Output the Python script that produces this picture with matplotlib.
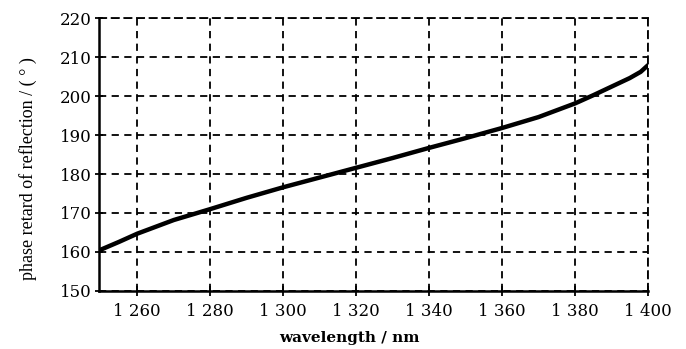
import matplotlib.pyplot as plt

plt.rcParams["font.family"] = ["Liberation Serif", "DejaVu Serif"]

# values
wavelength = [1249.5, 1255, 1260, 1270, 1280, 1290, 1300, 1310, 1320, 1330,
              1340, 1350, 1360, 1370, 1380, 1385, 1390, 1395, 1398, 1400]
phase = [160.4, 162.6, 164.7, 168.2, 171.0, 173.9, 176.6, 179.1, 181.6, 184.1,
         186.7, 189.2, 191.8, 194.6, 198.1, 200.2, 202.4, 204.6, 206.2, 207.9]

x_ticks = [1260, 1280, 1300, 1320, 1340, 1360, 1380, 1400]
x_tick_labels = ["1 260", "1 280", "1 300", "1 320", "1 340", "1 360", "1 380", "1 400"]
y_ticks = [150, 160, 170, 180, 190, 200, 210, 220]

fig = plt.figure(figsize=(6.86, 3.49), dpi=100)
ax = fig.add_axes([0.1443, 0.1662, 0.8003, 0.7822])

ax.plot(wavelength, phase, color="black", lw=3.2, solid_capstyle="round",
        solid_joinstyle="round")

ax.set_xlim(1249.5, 1400)
ax.set_ylim(150, 220)
ax.set_xticks(x_ticks)
ax.set_xticklabels(x_tick_labels, family="DejaVu Serif")
ax.set_yticks(y_ticks)
ax.set_yticklabels([str(v) for v in y_ticks], family="DejaVu Serif")

ax.grid(True, color="black", linestyle=(0, (4, 3)), linewidth=1.3)
for side in ["top", "right"]:
    ax.spines[side].set_linestyle((0, (4, 3)))
    ax.spines[side].set_linewidth(1.3)
for side in ["left", "bottom"]:
    ax.spines[side].set_linewidth(1.8)

ax.tick_params(axis="both", labelsize=12, direction="inout", width=1.3, colors="black")
ax.tick_params(axis="x", length=7, pad=5)
ax.tick_params(axis="y", length=6, pad=2)

ax.set_ylabel("phase retard of reflection / ( ° )", fontsize=13)
ax.set_xlabel("wavelength / nm", fontsize=11, fontweight="bold", family="DejaVu Serif")
ax.xaxis.set_label_coords(0.457, -0.145)
ax.yaxis.set_label_coords(-0.113, 0.447)

fig.savefig("out.png", dpi=100)
